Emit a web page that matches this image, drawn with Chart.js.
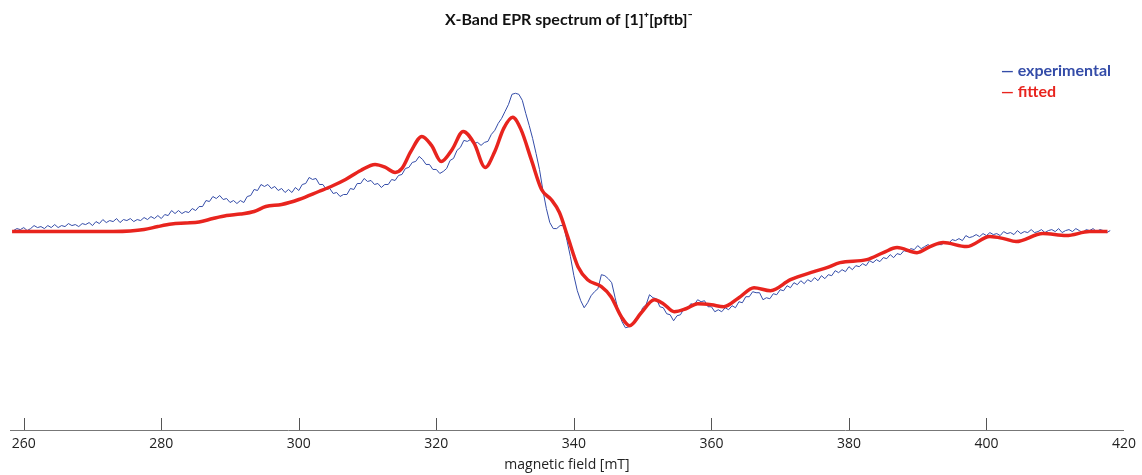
<!doctype html>
<html lang="en">
<head>
    <meta charset="utf-8">
    <title>X-Band EPR spectrum</title>
    <script src="https://cdn.jsdelivr.net/npm/chart.js"></script>
    <style>
        body { margin: 0; background: #fff; }
        #wrap { width: 1142px; height: 475px; }
    </style>
</head>
<body>
    <div id="wrap"><canvas id="chartEl"></canvas></div>
    <script>
        // sweep of the experimental trace (mT)
        const sweepStart = 258.5;
        const sweepStep = 0.5;

        // experimental first-derivative signal, one row per 5 mT
        const expIntensity = [
            1, 3, 2, 4, 1, 3, 6, 4, 5, 3,
            6, 4, 7, 4, 6, 5, 8, 6, 7, 5,
            8, 7, 9, 6, 10, 8, 12, 9, 11, 10,
            13, 9, 12, 11, 13, 10, 12, 11, 14, 12,
            15, 13, 16, 13, 17, 16, 21, 18, 21, 18,
            20, 19, 23, 21, 25, 25, 31, 30, 35, 33,
            36, 32, 33, 29, 31, 28, 31, 29, 35, 36,
            42, 41, 47, 45, 47, 43, 45, 41, 43, 39,
            42, 39, 44, 41, 47, 48, 54, 52, 53, 47,
            47, 42, 43, 38, 39, 35, 37, 37, 43, 42,
            48, 48, 53, 50, 51, 47, 48, 44, 47, 47,
            52, 51, 56, 57, 63, 64, 69, 70, 75, 72,
            67, 67, 62, 62, 58, 60, 63, 71, 73, 81,
            84, 91, 90, 92, 88, 89, 86, 89, 90, 97,
            101, 108, 113, 120, 127, 137, 138, 137, 131, 118,
            106, 93, 78, 62, 41, 23, 9, 3, 3, 6,
            6, -9, -25, -44, -59, -69, -76, -71, -64, -60,
            -57, -43, -44, -47, -51, -66, -80, -90, -96, -95,
            -92, -87, -85, -76, -73, -63, -66, -67, -75, -76,
            -82, -83, -89, -84, -83, -77, -77, -72, -73, -68,
            -70, -69, -75, -75, -80, -78, -80, -76, -78, -74,
            -76, -70, -71, -65, -65, -60, -61, -61, -68, -66,
            -67, -62, -63, -58, -59, -54, -56, -51, -53, -49,
            -52, -48, -50, -46, -49, -44, -47, -43, -44, -39,
            -41, -38, -40, -35, -38, -34, -35, -32, -34, -29,
            -31, -28, -30, -26, -27, -23, -26, -22, -23, -19,
            -20, -17, -18, -14, -17, -15, -13, -15, -12, -13,
            -13, -10, -12, -8, -9, -7, -9, -4, -6, -5,
            -3, -5, -2, -4, -1, -3, -2, -4, 0, -2,
            -1, -3, 1, -2, 0, -1, 2, -1, 0, 2,
            -1, 1, 2, 0, 3, -1, 1, 2, 0, 3,
            1, -1, 2, 1, 3, 0, 2, 1, -1, 1
        ];

        // simulated spectrum
        const fitField = [
            258.3, 262, 266, 270, 273, 275.5, 277.5, 279.5, 281.5, 283.5,
            285.5, 287.5, 289.5, 291.5, 293.5, 295.2, 297.5, 300, 302.9, 305,
            306.8, 309, 311.1, 312.6, 314, 315, 316.3, 317.9, 319.3, 320.7,
            322.3, 323.9, 325.5, 327.1, 328.5, 329.8, 331.1, 332.3, 333.8, 335.3,
            336.7, 337.9, 339.1, 340.6, 342, 344, 345.4, 346.9, 348.1, 349.8,
            351.7, 353, 354.6, 356.3, 358, 360, 361.8, 364, 366.2, 368.6,
            371.5, 374.9, 376.8, 378.7, 382.6, 385, 387, 389.9, 391.8, 393.7,
            397.1, 400.5, 402.5, 404.3, 408.2, 411.6, 415, 417.6
        ];
        const fitIntensity = [
            0, 0, 0, 0, 0, 0.5, 2, 5, 7.5, 8.5,
            9.5, 13, 16, 17.5, 20, 25, 27, 32, 40, 46,
            52, 61, 67, 64, 59, 63, 80, 95, 86, 70,
            82, 100, 88, 64, 80, 103, 114, 102, 72, 42,
            32, 19, -5, -35, -48, -55, -65, -85, -94, -81,
            -68, -72, -80, -77, -72, -73, -75, -66, -56, -59,
            -48, -40, -36, -31, -28, -21, -16, -21, -15, -11,
            -15, -5, -7, -10, -2, -4, 0, 0
        ];

        const fieldTicks = [260, 280, 300, 320, 340, 360, 380, 400, 420];

        const expPoints = expIntensity.map((y, i) => ({ x: sweepStart + i * sweepStep, y }));
        const fitPoints = fitField.map((x, i) => ({ x, y: fitIntensity[i] }));

        // tick marks point up into the plot from the axis line
        const innerTicks = {
            id: 'innerTicks',
            afterDraw(chart) {
                const scale = chart.scales.x;
                const ctx = chart.ctx;
                const bottom = chart.chartArea.bottom;
                ctx.save();
                ctx.strokeStyle = '#555';
                ctx.lineWidth = 1;
                ctx.beginPath();
                scale.ticks.forEach((t) => {
                    if (t.value >= scale.max) return;
                    const px = Math.round(scale.getPixelForValue(t.value)) + 0.5;
                    ctx.moveTo(px, bottom);
                    ctx.lineTo(px, bottom - 12);
                });
                ctx.stroke();
                ctx.restore();
            }
        };

        // coloured legend text in the upper right corner
        const cornerLegend = {
            id: 'cornerLegend',
            afterDraw(chart) {
                const ctx = chart.ctx;
                ctx.save();
                ctx.font = 'bold 16px Lato, "Open Sans", sans-serif';
                ctx.textBaseline = 'middle';
                ctx.textAlign = 'left';
                chart.data.datasets.slice().reverse().forEach((ds, i) => {
                    ctx.fillStyle = ds.borderColor;
                    ctx.fillText('\u2014 ' + ds.label, 1001, 71 + i * 21);
                });
                ctx.restore();
            }
        };

        const config = {
            type: 'line',
            data: {
                datasets: [
                    {
                        label: 'fitted',
                        data: fitPoints,
                        borderColor: 'rgb(232, 36, 30)',
                        borderWidth: 3.5,
                        pointRadius: 0,
                        cubicInterpolationMode: 'monotone'
                    },
                    {
                        label: 'experimental',
                        data: expPoints,
                        borderColor: 'rgb(52, 76, 168)',
                        borderWidth: 1,
                        pointRadius: 0,
                        tension: 0
                    }
                ]
            },
            options: {
                responsive: true,
                maintainAspectRatio: false,
                animation: false,
                events: [],
                layout: { padding: { left: 10, right: 14, top: 0, bottom: 0 } },
                plugins: {
                    legend: { display: false },
                    tooltip: { enabled: false },
                    title: {
                        display: true,
                        text: 'X-Band EPR spectrum of [1]\u207A[pftb]\u207B',
                        color: '#111',
                        font: { family: 'Lato, "Open Sans", sans-serif', size: 16, weight: 'bold' },
                        padding: { top: 10, bottom: 18 }
                    }
                },
                scales: {
                    x: {
                        type: 'linear',
                        min: 258,
                        max: 420,
                        afterBuildTicks: (s) => { s.ticks = fieldTicks.map((v) => ({ value: v })); },
                        afterFit: (s) => { s.height = 45; },
                        grid: { display: false, drawTicks: false },
                        border: { display: true, color: '#777', width: 1 },
                        ticks: {
                            color: '#222',
                            padding: 6,
                            maxRotation: 0,
                            font: { family: '"Open Sans", sans-serif', size: 14 }
                        },
                        title: {
                            display: true,
                            text: 'magnetic field [mT]',
                            color: '#222',
                            padding: { top: 0, bottom: 2 },
                            font: { family: '"Open Sans", sans-serif', size: 14 }
                        }
                    },
                    y: {
                        display: false,
                        min: -198,
                        max: 184
                    }
                }
            },
            plugins: [innerTicks, cornerLegend]
        };

        new Chart(document.getElementById('chartEl'), config);
    </script>
</body>
</html>
